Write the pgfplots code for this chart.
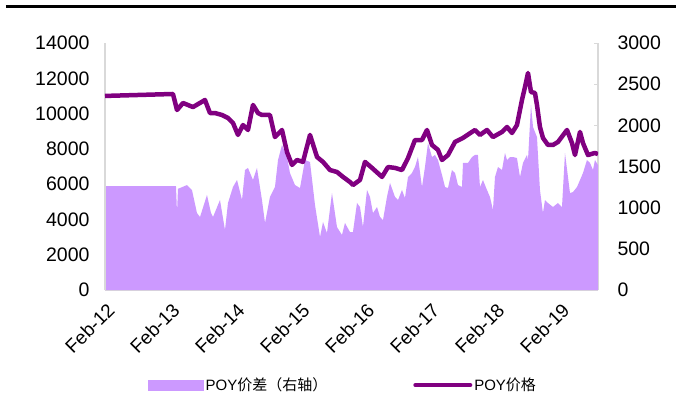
\documentclass[border=0pt]{standalone}
\usepackage{pgfplots}
\pgfplotsset{compat=1.18}
\usepackage{fontspec}
\setmainfont{Liberation Sans}
\newfontfamily\cjk{Noto Sans CJK SC}
\definecolor{areacol}{RGB}{204,153,255}
\definecolor{linecol}{RGB}{128,0,128}
\definecolor{axcol}{RGB}{217,217,217}
\begin{document}
\begin{tikzpicture}
\useasboundingbox (-105pt,-110pt) rectangle (571pt,290pt);
\draw[line width=3pt] (-99pt,284pt) -- (571pt,284pt);
% right axis: spread (area)
\begin{axis}[
    scale only axis, width=493pt, height=247pt,
    xmin=0, xmax=7.585, ymin=0, ymax=3000,
    axis x line*=bottom, axis y line*=right,
    axis line style={axcol, line width=1.2pt},
    xtick={0,1,2,3,4,5,6,7},
    xticklabels={Feb-12,Feb-13,Feb-14,Feb-15,Feb-16,Feb-17,Feb-18,Feb-19},
    xticklabel style={xshift=1pt, yshift=-7pt, rotate=45, anchor=north east, font=\fontsize{19}{21}\selectfont},
    xtick style={draw=none},
    ytick={0,500,...,3000},
    ytick style={axcol, line width=1pt},
    tick align=inside, major tick length=4pt,
    yticklabel style={font=\fontsize{19.5}{21}\selectfont, xshift=16pt},
    scaled y ticks=false,
    /pgf/number format/set thousands separator={},
    /pgf/number format/assume math mode=true,
]
\addplot[fill=areacol, draw=none] coordinates {
(0,1263) (1.077,1263) (1.092,1263) (1.108,940) (1.123,1230) (1.154,1239) (1.262,1275) (1.338,1215)
(1.415,935) (1.462,887) (1.569,1154) (1.631,935) (1.662,887) (1.769,1093) (1.846,729) (1.892,1057)
(1.969,1251) (2.031,1336) (2.108,1093) (2.154,1458) (2.2,1482) (2.277,1336) (2.338,1482) (2.415,1093)
(2.462,814) (2.538,1130) (2.615,1251) (2.662,1579) (2.723,1761) (2.8,1615) (2.846,1421) (2.923,1275)
(3.0,1239) (3.077,1579) (3.154,1555) (3.231,1032) (3.308,644) (3.354,826) (3.415,692) (3.492,1178)
(3.569,765) (3.646,668) (3.692,814) (3.769,704) (3.815,704) (3.877,1057) (3.923,1008) (3.969,765)
(4.031,1215) (4.077,1130) (4.123,935) (4.185,1008) (4.231,887) (4.277,850) (4.338,1130) (4.385,1300)
(4.462,1130) (4.508,1093) (4.569,1215) (4.615,1117) (4.662,1372) (4.723,1421) (4.769,1494) (4.815,1615)
(4.877,1251) (4.923,1494) (4.969,1785) (5.031,1615) (5.077,1640) (5.123,1579) (5.185,1397) (5.231,1251)
(5.277,1239) (5.338,1458) (5.385,1421) (5.431,1275) (5.492,1251) (5.508,1543) (5.585,1543) (5.646,1615)
(5.692,1640) (5.738,1640) (5.769,1251) (5.815,1336) (5.877,1215) (5.923,1130) (5.969,972) (6.0,1372)
(6.046,1494) (6.108,1458) (6.154,1664) (6.185,1579) (6.231,1615) (6.277,1615) (6.338,1603) (6.385,1372)
(6.431,1543) (6.492,1640) (6.508,1579) (6.554,2247) (6.585,1980) (6.646,1858) (6.692,1215) (6.738,935)
(6.769,1093) (6.815,1057) (6.892,1008) (6.969,1057) (7.031,1008) (7.077,1664) (7.154,1178) (7.2,1190)
(7.262,1251) (7.308,1336) (7.354,1421) (7.415,1579) (7.462,1543) (7.508,1458) (7.538,1579) (7.585,1518)
} \closedcycle;
\end{axis}
% left axis: price (line)
\begin{axis}[
    scale only axis, width=493pt, height=247pt,
    xmin=0, xmax=7.585, ymin=0, ymax=14000,
    axis x line=none, axis y line*=left,
    axis line style={axcol, line width=1.2pt},
    ytick={0,2000,...,14000},
    ytick style={draw=none},
    yticklabel style={font=\fontsize{19.5}{21}\selectfont, xshift=-12pt},
    scaled y ticks=false,
    /pgf/number format/set thousands separator={},
    /pgf/number format/assume math mode=true,
    legend style={at={(0.483,-0.385)}, anchor=center, draw=none, fill=none,
        legend columns=2, font=\fontsize{15}{17}\selectfont,
        /tikz/every even column/.append style={column sep=84pt}},
]
\addlegendimage{legend image code/.code={\fill[areacol] (0pt,-5pt) rectangle (55pt,5pt);}}
\addlegendentry{POY{\cjk 价差（右轴）}}
\addplot[color=linecol, line width=4.5pt, line join=round,
    legend image code/.code={\draw[linecol, line width=4pt, line cap=round] (0pt,0pt) -- (55pt,0pt);}]
coordinates {
(0,11000) (1.046,11110) (1.108,10200) (1.2,10600) (1.354,10370) (1.538,10770) (1.615,10030) (1.692,10030)
(1.8,9920) (1.892,9750) (1.969,9470) (2.046,8790) (2.123,9350) (2.2,9070) (2.277,10490) (2.354,10030)
(2.415,9920) (2.538,9920) (2.615,8670) (2.723,9070) (2.8,7820) (2.877,7090) (2.954,7370) (3.046,7260)
(3.154,8790) (3.262,7540) (3.354,7260) (3.462,6800) (3.569,6690) (3.662,6410) (3.769,6120) (3.815,5950)
(3.923,6240) (4.0,7260) (4.108,6920) (4.262,6410) (4.354,6970) (4.462,6920) (4.569,6800) (4.662,7480)
(4.769,8500) (4.877,8500) (4.954,9070) (5.031,8220) (5.123,7940) (5.185,7370) (5.277,7650) (5.385,8390)
(5.508,8620) (5.692,9070) (5.769,8790) (5.877,9070) (5.969,8670) (6.108,8960) (6.185,9240) (6.262,8900)
(6.338,9350) (6.415,10770) (6.462,11510) (6.508,12300) (6.554,11220) (6.615,11170) (6.646,10490) (6.692,9240)
(6.738,8620) (6.815,8220) (6.892,8220) (6.969,8390) (7.108,9070) (7.185,8330) (7.231,7650) (7.308,8960)
(7.354,8330) (7.431,7650) (7.538,7770) (7.585,7700)
};
\addlegendentry{POY{\cjk 价格}}
\end{axis}
\end{tikzpicture}
\end{document}
